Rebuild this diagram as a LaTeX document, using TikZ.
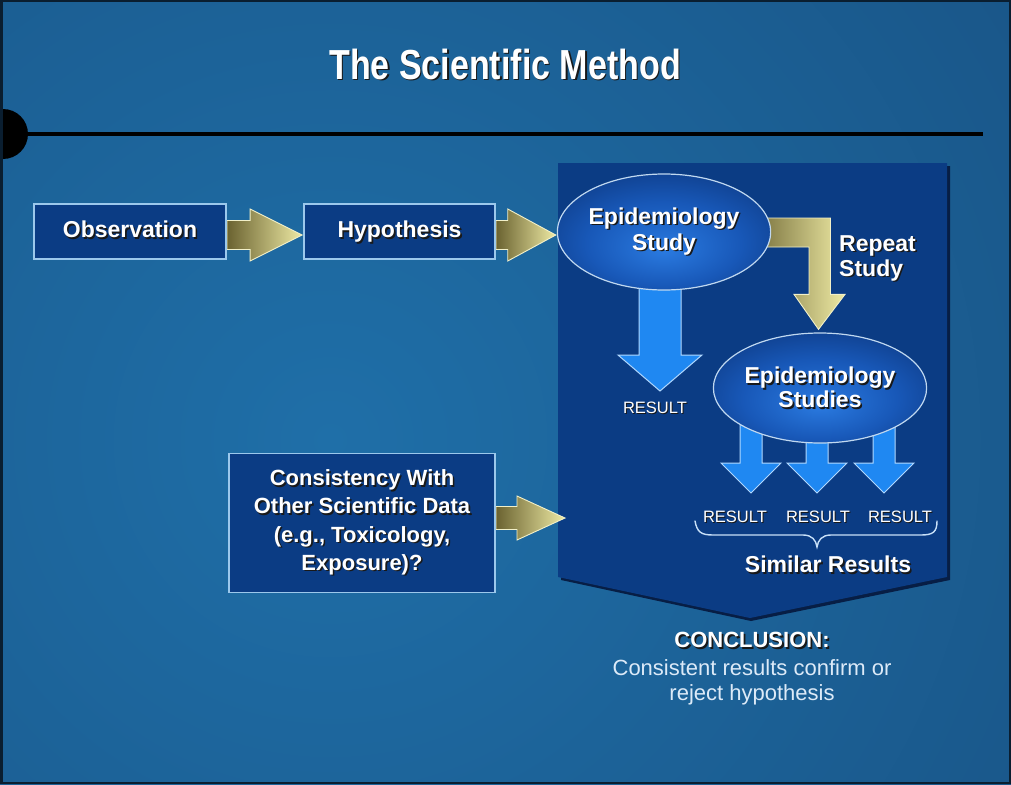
\documentclass[tikz,border=0pt]{standalone}
\usepackage{fontspec}
\setmainfont{Liberation Sans}
\usetikzlibrary{shapes.geometric,calc}
\definecolor{bgin}{HTML}{1F6FA8}
\definecolor{bgout}{HTML}{164877}
\definecolor{frame}{HTML}{0A1E30}
\definecolor{navy}{HTML}{0B3C84}
\definecolor{pshadow}{HTML}{071E45}
\definecolor{boxline}{HTML}{9CC8EC}
\definecolor{ydark}{HTML}{6A6230}
\definecolor{ymid}{HTML}{C4BE6C}
\definecolor{ylight}{HTML}{EEEAA4}
\definecolor{yline}{HTML}{F2F0C8}
\definecolor{bblue}{HTML}{1F88F2}
\definecolor{bline}{HTML}{B0D8FF}
\definecolor{ellin}{HTML}{2A7AE0}
\definecolor{ellmid}{HTML}{1858B8}
\definecolor{ellout}{HTML}{0A3276}
\definecolor{elline}{HTML}{C0D8F0}
\definecolor{conc}{HTML}{DCEAF8}
\definecolor{bracec}{HTML}{C8E0F8}
\pgfdeclareradialshading{ellsh}{\pgfpoint{0bp}{-8bp}}{color(0bp)=(ellin); color(18bp)=(ellmid); color(38bp)=(ellout); color(50bp)=(ellout)}
\pgfdeclarelayer{back}
\pgfdeclarelayer{arr}
\pgfsetlayers{back,arr,main}
\newcommand\sh[2][1.6pt]{\leavevmode\rlap{\kern#1\raisebox{-#1}{\textcolor{black!90}{#2}}}#2}
\tikzset{
  box/.style={draw=boxline, line width=1.8pt, fill=navy, text=white, inner sep=0pt, align=center,
    font=\bfseries\fontsize{23}{28}\selectfont},
  ell/.style={ellipse, draw=elline, line width=1.2pt, shading=ellsh, text=white, inner sep=0pt,
    align=center, font=\bfseries\fontsize{23}{26}\selectfont},
  yarr/.style={left color=ydark, middle color=ymid, right color=ylight, draw=yline, line width=0.9pt, line join=miter},
  barr/.style={fill=bblue, draw=bline, line width=1pt, line join=miter},
  reslbl/.style={text=white, inner sep=0pt, font=\fontsize{16.5}{18}\selectfont},
  wlbl/.style={text=white, inner sep=0pt, align=center, font=\bfseries\fontsize{23}{25}\selectfont},
}
\begin{document}
\begin{tikzpicture}[x=1pt,y=-1pt]
\useasboundingbox (0,0) rectangle (1011,784);
\begin{pgfonlayer}{back}
  \begin{scope}
    \clip (0,0) rectangle (1011,784);
    \shade[inner color=bgin, outer color=bgout] (330,440) circle (1300pt);
    \fill[black] (3,134) circle (25pt);
    \draw[line width=4.5pt, black] (0,134) -- (983,134);
  \end{scope}
  \draw[frame, line width=2.5pt] (1.25,1.25) rectangle (1009.75,782.75);
  \fill[pshadow] (561,166) -- (950,166) -- (950,580) -- (751,621) -- (561,580) -- cycle;
  \fill[navy] (558,163) -- (947,163) -- (947,577) -- (750,618) -- (558,577) -- cycle;
\end{pgfonlayer}

% title
\node (title) at (505,65) {\fontsize{42}{46}\selectfont\bfseries\color{white}\scalebox{0.81}[1]{\sh{The Scientific Method}}};

% boxes
\node[box, minimum width=192pt, minimum height=55pt, text height=16.5pt, text depth=4.5pt] (obs) at (130,231.5) {\sh{Observation}};
\node[box, minimum width=191pt, minimum height=55pt, text height=16.5pt, text depth=4.5pt] (hyp) at (399.5,231.5) {\sh{Hypothesis}};
\node[box, minimum width=266pt, minimum height=139pt, font=\bfseries\fontsize{22}{28.3}\selectfont] (cons) at (362,523)
  {\sh{Consistency With}\\\sh{Other Scientific Data}\\\sh{(e.g., Toxicology,}\\\sh{Exposure)?}};

% ellipses
\node[ell, minimum width=192pt, minimum height=116pt] (ell1) at (664,232) {\sh{Epidemiology}\\\sh{Study}};
\node[ell, minimum width=185pt, minimum height=110pt, font=\bfseries\fontsize{23}{24}\selectfont] (ell2) at (820,388) {\sh{Epidemiology}\\\sh{Studies}};

% labels
\node[wlbl, align=left, anchor=west] (rep) at (839,259) {\sh{Repeat}\\\sh{Study}};
\node[reslbl] (res1) at (655,408) {\sh[1pt]{RESULT}};
\node[reslbl] (res2) at (735,517) {\sh[1pt]{RESULT}};
\node[reslbl] (res3) at (818,517) {\sh[1pt]{RESULT}};
\node[reslbl] (res4) at (900,517) {\sh[1pt]{RESULT}};
\node[wlbl] (sim) at (828,565) {\sh{Similar Results}};
\node[text=white, inner sep=0pt, font=\bfseries\fontsize{22}{24}\selectfont] (concl) at (752,641) {\sh[1.8pt]{CONCLUSION:}};
\node[text=conc, inner sep=0pt, align=center, font=\fontsize{22}{25}\selectfont] (concb) at (752,682)
  {Consistent results confirm or\\reject hypothesis};

% connector coordinates
\coordinate (cin) at (565,518);
\coordinate (t1) at (660,391);
\coordinate (t2) at (751,493);
\coordinate (t3) at (817,493);
\coordinate (t4) at (884,493);

\begin{pgfonlayer}{arr}
  % yellow arrows
  \draw[yarr] let \p1=($(obs.east)+(0,3.5)$), \p2=(hyp.west) in
    (\x1,\y1+14.5pt) -- (\x2-53pt,\y1+14.5pt) -- (\x2-53pt,\y1+26pt) -- (\x2-1pt,\y1)
    -- (\x2-53pt,\y1-26pt) -- (\x2-53pt,\y1-14.5pt) -- (\x1,\y1-14.5pt) -- cycle;
  \draw[yarr] let \p1=($(hyp.east)+(0,3.5)$), \p2=(ell1.west) in
    (\x1,\y1+14.5pt) -- (\x2-49pt,\y1+14.5pt) -- (\x2-49pt,\y1+26pt) -- (\x2-1pt,\y1)
    -- (\x2-49pt,\y1-26pt) -- (\x2-49pt,\y1-14.5pt) -- (\x1,\y1-14.5pt) -- cycle;
  \draw[yarr] let \p1=(cons.east), \p2=(cin) in
    (\x1,\y2+11.5pt) -- (\x2-48pt,\y2+11.5pt) -- (\x2-48pt,\y2+22pt) -- (\x2,\y2)
    -- (\x2-48pt,\y2-22pt) -- (\x2-48pt,\y2-11.5pt) -- (\x1,\y2-11.5pt) -- cycle;
  \draw[yarr] let \p1=(ell1.center), \p2=(ell2.north) in
    (\x1+80pt,\y1+14pt) -- (\x2+10.5pt,\y1+14pt) -- (\x2+10.5pt,\y2+38pt) -- (\x2+25pt,\y2+38pt)
    -- (\x2-1.5pt,\y2+3pt) -- (\x2-26pt,\y2+38pt) -- (\x2-11pt,\y2+38pt) -- (\x2-11pt,\y1-15pt)
    -- (\x1+80pt,\y1-15pt) -- cycle;
  % blue arrows
  \draw[barr] let \p1=(ell1.center), \p2=(t1) in
    (\x2-21pt,\y1) -- (\x2-21pt,\y2+36pt) -- (\x2-42pt,\y2+36pt) -- (\x2,\y2)
    -- (\x2+42pt,\y2+36pt) -- (\x2+21pt,\y2+36pt) -- (\x2+21pt,\y1) -- cycle;
  \foreach \t in {t2,t3,t4}{
    \draw[barr] let \p1=(ell2.center), \p2=(\t) in
      (\x2-11pt,\y1) -- (\x2-11pt,\y2+30pt) -- (\x2-30pt,\y2+30pt) -- (\x2,\y2)
      -- (\x2+30pt,\y2+30pt) -- (\x2+11pt,\y2+30pt) -- (\x2+11pt,\y1) -- cycle;
  }
\end{pgfonlayer}

% brace
\draw[bracec, line width=1.4pt, line cap=round]
  (695,521) .. controls (697,532) and (701,535) .. (713,535) -- (803,535)
  .. controls (812,535) and (816,540) .. (817,547)
  .. controls (818,540) and (822,535) .. (831,535) -- (921,535)
  .. controls (933,535) and (937,532) .. (937,521);
\end{tikzpicture}
\end{document}
